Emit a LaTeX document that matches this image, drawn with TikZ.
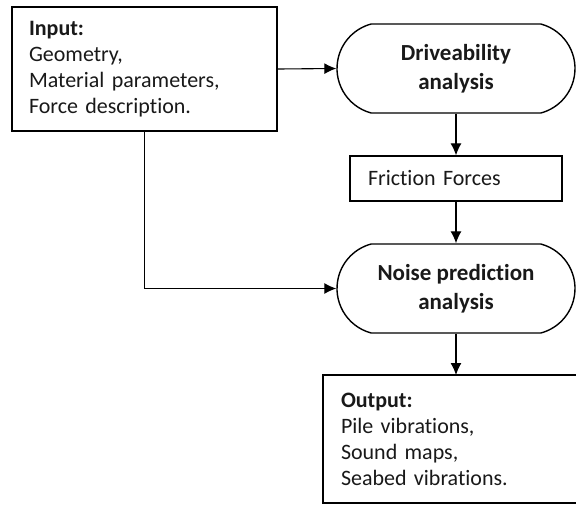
\documentclass[tikz,border=0pt]{standalone}
\usepackage{fontspec}
\setmainfont{Carlito}[Ligatures=NoCommon]
\usepackage{tikz}
\usetikzlibrary{arrows.meta,shapes.misc}
\tikzset{
  flownode/.style = {inner sep=0pt, font=\fontsize{22}{26}\selectfont,
    text=black!90},
  io_box/.style = {flownode, rectangle, draw=black, line width=2pt,
    align=left, inner xsep=17pt},% boite entree / sortie
  run_box/.style = {flownode, rounded rectangle, rounded rectangle arc length=150,
    draw=black, line width=1.4pt, align=center,
    font=\fontsize{23}{28.5}\selectfont\bfseries,
    minimum width=238pt, minimum height=89pt},% analyse
  res_box/.style = {flownode, rectangle, draw=black, line width=1.3pt,
    align=left, inner xsep=18pt, text width=176pt,
    minimum height=45pt},% resultat intermediaire
  flow/.style = {draw=black, line width=1.1pt,
    -{Latex[length=12pt,width=11pt]}}
}

\begin{document}
\begin{tikzpicture}[x=1pt, y=-1pt]
		\useasboundingbox (0,0) rectangle (576,504);
		\clip (0,0) rectangle (576,504);
		\node [io_box, minimum width=265pt, minimum height=124pt, text width=231pt]
		  (input) at (144.5,69) {\textbf{Input:}\\Geometry,\\Material parameters,\\Force description.};
		\node [run_box] (drive) at (456,68.5) {Driveability\\analysis};
		\node [res_box] (fric) at (456,178.5) {Friction Forces};
		\node [run_box] (noise) at (456,288.5) {Noise prediction\\analysis};
		\node [io_box, draw=none, minimum width=400pt, minimum height=126pt, text width=366pt]
		  (output) at (524,439) {\textbf{Output:}\\Pile vibrations,\\Sound maps,\\Seabed vibrations.};
		% sortie : bord droit hors cadre
		\draw [line width=2pt] (output.north east) -- (output.north west)
		  -- (output.south west) -- (output.south east);
		% liaisons
		\draw [flow] (input.east) -- (drive.west);
		\draw [flow] (drive.south) -- (fric.north);
		\draw [flow] (fric.south) -- (noise.north);
		\draw [flow] (input.south) |- (noise.west);
		\draw [flow] (noise.south) -- (noise.south |- output.north);
	\end{tikzpicture}
\end{document}
